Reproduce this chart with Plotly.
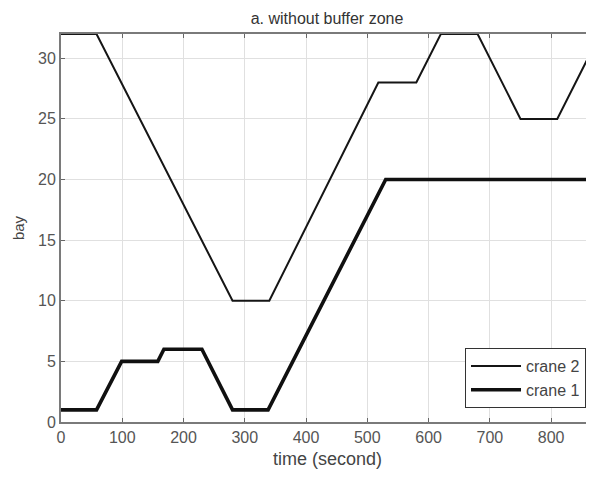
import plotly.graph_objects as go

crane2_t = [0, 58, 280, 340, 518, 580, 620, 680, 750, 810, 875]
crane2_bay = [32, 32, 10, 10, 28, 28, 32, 32, 25, 25, 31.5]
crane1_t = [0, 58, 99, 158, 168, 230, 280, 338, 530, 875]
crane1_bay = [1, 1, 5, 5, 6, 6, 1, 1, 20, 20]
x_ticks = [0, 100, 200, 300, 400, 500, 600, 700, 800]
y_ticks = [0, 5, 10, 15, 20, 25, 30]

FONT = "Liberation Sans, Arial"

fig = go.Figure()
fig.add_trace(go.Scatter(x=crane2_t, y=crane2_bay, mode="lines", name="crane 2",
                         line=dict(color="#151515", width=2)))
fig.add_trace(go.Scatter(x=crane1_t, y=crane1_bay, mode="lines", name="crane 1",
                         line=dict(color="#101010", width=3.6)))

axis_common = dict(showgrid=True, gridcolor="#e0e0e0", gridwidth=1,
                   showline=True, linecolor="#7a7a7a", linewidth=2,
                   ticks="inside", ticklen=4, tickcolor="#666", zeroline=False,
                   automargin=False,
                   tickfont=dict(family=FONT, size=16, color="#555"))

fig.update_layout(
    width=586, height=461,
    margin=dict(l=53, r=0, t=26, b=47),
    paper_bgcolor="white", plot_bgcolor="white",
    title=dict(text="a. without buffer zone", x=(53 + 266) / 586, xanchor="center",
               yref="container", y=1 - 10 / 461, yanchor="middle",
               font=dict(family=FONT, size=16, color="#333")),
    xaxis=dict(range=[0, 870], tickvals=x_ticks, mirror="ticks",
               title=dict(text="time (second)", standoff=7,
                          font=dict(family=FONT, size=18, color="#444")), **axis_common),
    yaxis=dict(range=[0, 32], tickvals=y_ticks, mirror=False,
               title=dict(text="bay", standoff=10,
                          font=dict(family=FONT, size=15, color="#444")), **axis_common),
    legend=dict(x=0.985, y=0.036, xanchor="right", yanchor="bottom",
                bgcolor="white", bordercolor="#333", borderwidth=1,
                font=dict(family=FONT, size=16, color="#444"),
                tracegroupgap=0, itemwidth=50),
    showlegend=True,
)

fig.write_html("out.html")
